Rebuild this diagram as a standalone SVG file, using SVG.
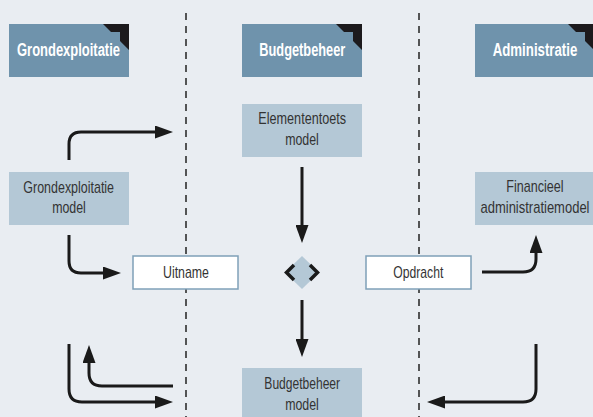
<svg xmlns="http://www.w3.org/2000/svg" width="593" height="417" viewBox="0 0 593 417">
<style>
.hdr rect{fill:#6f93ac}
.hdr text{fill:#fff;font-family:"Liberation Sans",Arial,sans-serif;font-weight:bold;font-size:17.5px;text-anchor:middle}
.corner{fill:#1c1a1d}
.nd rect{fill:#b4c8d6}
.nd text,.wb text{fill:#333;font-family:"Liberation Sans",Arial,sans-serif;font-size:17px;text-anchor:middle}
.wb rect{fill:#fff;stroke:#7fa0b8;stroke-width:1.5}
.sep{stroke:#222;stroke-width:1.5;stroke-dasharray:7 6;fill:none}
.ar{stroke:#1a1a1a;stroke-width:3;fill:none;marker-end:url(#ah)}
</style>
<defs>
<marker id="ah" markerUnits="userSpaceOnUse" markerWidth="18" markerHeight="13" viewBox="0 0 18 13" refX="8" refY="6.5" orient="auto">
<path d="M0,0 L18,6.5 L0,13 z" fill="#1a1a1a"/>
</marker>
<path id="cn" d="M-26,0 L0,0 L0,26 L-9,17 L-9,8 L-18,8 z"/>
</defs>
<rect width="593" height="417" fill="#e9edf2"/>
<g id="separators">
<line class="sep" x1="186" y1="13" x2="186" y2="417"/>
<line class="sep" x1="419" y1="13" x2="419" y2="417"/>
</g>
<g id="h-grond" class="hdr"><rect x="9" y="24" width="120" height="53"/><use href="#cn" x="129" y="24" class="corner"/><text x="68.5" y="56" textLength="103" lengthAdjust="spacingAndGlyphs">Grondexploitatie</text></g>
<g id="h-budget" class="hdr"><rect x="242" y="24" width="120" height="53"/><use href="#cn" x="362" y="24" class="corner"/><text x="302.3" y="56" textLength="86" lengthAdjust="spacingAndGlyphs">Budgetbeheer</text></g>
<g id="h-admin" class="hdr"><rect x="475" y="24" width="118" height="53"/><use href="#cn" x="594" y="24" class="corner"/><text x="535" y="56" textLength="84.6" lengthAdjust="spacingAndGlyphs">Administratie</text></g>
<g id="n-grondmodel" class="nd"><rect x="9" y="172" width="120" height="53"/><text x="68.7" y="193" textLength="90.7" lengthAdjust="spacingAndGlyphs">Grondexploitatie</text><text x="69" y="213" textLength="33.7" lengthAdjust="spacingAndGlyphs">model</text></g>
<g id="n-element" class="nd"><rect x="242" y="104" width="120" height="53"/><text x="302.2" y="124" textLength="87.7" lengthAdjust="spacingAndGlyphs">Elemententoets</text><text x="302" y="145" textLength="33.7" lengthAdjust="spacingAndGlyphs">model</text></g>
<g id="n-fin" class="nd"><rect x="475" y="172" width="118" height="53"/><text x="535" y="192" textLength="57.3" lengthAdjust="spacingAndGlyphs">Financieel</text><text x="535" y="213" textLength="109" lengthAdjust="spacingAndGlyphs">administratiemodel</text></g>
<g id="n-budgetmodel" class="nd"><rect x="242" y="368" width="120" height="49"/><text x="302.2" y="389" textLength="75.7" lengthAdjust="spacingAndGlyphs">Budgetbeheer</text><text x="302" y="410" textLength="33.7" lengthAdjust="spacingAndGlyphs">model</text></g>
<g id="n-uitname" class="wb"><rect x="133" y="256" width="105" height="33"/><text x="186" y="277.5" textLength="46" lengthAdjust="spacingAndGlyphs">Uitname</text></g>
<g id="n-opdracht" class="wb"><rect x="366" y="256" width="105" height="33"/><text x="418.3" y="277.5" textLength="50" lengthAdjust="spacingAndGlyphs">Opdracht</text></g>
<g id="n-decision">
<polygon points="302,256 319,272.5 302,289 285,272.5" fill="#b4c8d6"/>
<path d="M294,265 L286.5,272.5 L294,280 M310,265 L317.5,272.5 L310,280" stroke="#1a1a1a" stroke-width="3.5" fill="none"/>
</g>
<g id="connectors">
<path class="ar" d="M302,167 V233"/>
<path class="ar" d="M302,300 V347"/>
<path class="ar" d="M69,160 V144 Q69,132 81,132 H163"/>
<path class="ar" d="M69,235 V261 Q69,273 81,273 H111"/>
<path class="ar" d="M482,272 H523 Q536,272 536,259 V245"/>
<path class="ar" d="M69,344 V389 Q69,402 82,402 H163"/>
<path class="ar" d="M173,386 H102 Q89,386 89,373 V355"/>
<path class="ar" d="M536,344 V389 Q536,402 523,402 H437"/>
</g>
</svg>
